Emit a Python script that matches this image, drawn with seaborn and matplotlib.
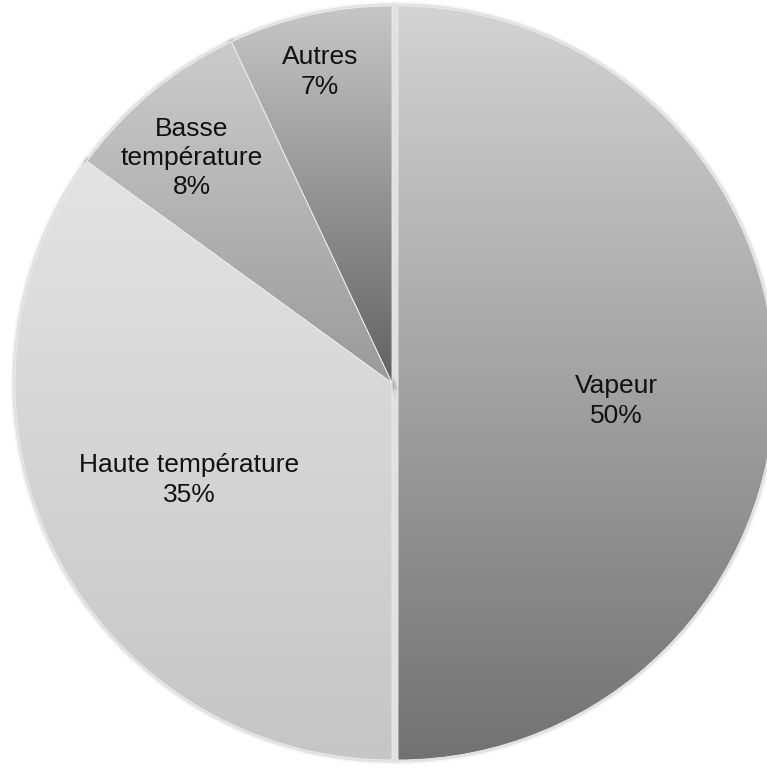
import numpy as np
import matplotlib
matplotlib.use("Agg")
import matplotlib.pyplot as plt
import matplotlib.colors as mcolors
from matplotlib.patches import Wedge
import seaborn as sns

# Shares of each category (percent), drawn clockwise from 12 o'clock
categories = ["Vapeur", "Haute température", "Basse température", "Autres"]
shares = [50, 35, 8, 7]
slice_titles = ["Vapeur", "Haute température", "Basse\ntempérature", "Autres"]

# Vertical grey gradient of each slice (top colour, bottom colour)
top_greys = ["#d3d3d3", "#e3e3e3", "#cccccc", "#c6c6c6"]
bottom_greys = ["#727272", "#c6c6c6", "#9a9a9a", "#626262"]
# offset of each slice from the centre, in pixels
explode = [6, 0, 0, 0]

# Label anchor points in pixels (x from left, y from top)
label_px = [(616, 401), (189, 480), (192, 158), (320, 72)]

sns.set_theme(style="white")
plt.rcParams["font.family"] = ["Liberation Sans", "DejaVu Sans"]

W, H = 767, 768
fig = plt.figure(figsize=(W / 100, H / 100), dpi=100)
ax = fig.add_axes([0, 0, 1, 1])

cx, cy, R = 392, H - 383, 377
wedges, _ = ax.pie(
    shares,
    startangle=90,
    counterclock=False,
    explode=explode,
    center=(cx, cy),
    radius=R,
    wedgeprops=dict(edgecolor="#ececec", linewidth=0.6),
)

for w, top, bot in zip(wedges, top_greys, bottom_greys):
    # soft shadow around the rim
    for lw, a in ((6, 0.04), (3.5, 0.08)):
        sh = Wedge(w.center, w.r, w.theta1, w.theta2, facecolor="none",
                   edgecolor=(0, 0, 0, a), linewidth=lw, zorder=0.5)
        ax.add_patch(sh)
    # gradient fill clipped to the wedge
    ext = w.get_path().get_extents()
    t = np.array(mcolors.to_rgb(top))
    b = np.array(mcolors.to_rgb(bot))
    f = np.linspace(0, 1, 256)[:, None, None]
    grad = t[None, None, :] * (1 - f) + b[None, None, :] * f
    grad = np.repeat(grad, 2, axis=1)
    im = ax.imshow(grad, extent=(ext.x0, ext.x1, ext.y0, ext.y1),
                   origin="upper", aspect="auto", interpolation="bilinear",
                   zorder=1)
    im.set_clip_path(w)
    w.set_facecolor("none")
    w.set_zorder(2)

for title, share, (px, py) in zip(slice_titles, shares, label_px):
    ax.text(px, H - py, f"{title}\n{share}%", ha="center", va="center",
            fontsize=19, linespacing=1.28, color="#111111", zorder=3)

ax.set_xlim(0, W)
ax.set_ylim(0, H)
ax.set_aspect("equal")
ax.axis("off")

fig.savefig("out.png", dpi=100, facecolor="white")
